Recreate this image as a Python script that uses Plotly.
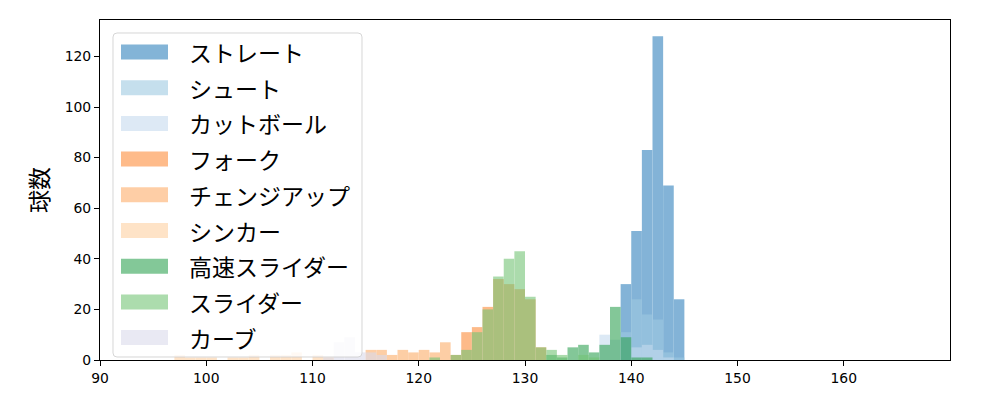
import plotly.graph_objects as go

# bin left edges (width 1) and counts per pitch type
straight_bins = [139, 140, 141, 142, 143, 144]
straight_cnt = [30, 51, 83, 128, 69, 24]

shoot_bins = [139, 140, 141, 142, 143, 144]
shoot_cnt = [11, 24, 18, 16, 3, 1]

cutter_bins = [137, 138, 140, 141, 142, 143]
cutter_cnt = [10, 8, 5, 6, 4, 1]

fork_bins = [123, 124, 125, 126, 127, 128, 129, 130, 131]
fork_cnt = [2, 11, 13, 21, 32, 30, 28, 24, 5]

change_bins = [115, 116, 117, 118, 119, 120, 121, 122]
change_cnt = [4, 4, 2, 4, 3, 4, 3, 7]

sinker_bins = [97, 98, 99, 100, 102, 103, 104, 106, 107, 108, 110, 111]
sinker_cnt = [2, 1, 1, 1, 1, 1, 2, 2, 2, 3, 2, 1]

hslider_bins = [132, 133, 134, 135, 136, 137, 138, 139, 140, 141]
hslider_cnt = [2, 1, 5, 6, 3, 6, 21, 9, 1, 1]

slider_bins = [121, 123, 124, 125, 126, 127, 128, 129, 130, 131, 132, 133, 135, 136]
slider_cnt = [1, 2, 4, 11, 20, 33, 40, 43, 25, 5, 4, 2, 2, 1]

curve_bins = [111, 112, 113, 114, 115, 116]
curve_cnt = [1, 7, 9, 3, 3, 2]

names = ["ストレート", "シュート", "カットボール", "フォーク", "チェンジアップ",
         "シンカー", "高速スライダー", "スライダー", "カーブ"]
colors = ["#3182bd", "#9ecae1", "#c6dbef", "#fd8d3c", "#fdae6b",
          "#fdd0a2", "#31a354", "#74c476", "#dadaeb"]
series = [(straight_bins, straight_cnt), (shoot_bins, shoot_cnt), (cutter_bins, cutter_cnt),
          (fork_bins, fork_cnt), (change_bins, change_cnt), (sinker_bins, sinker_cnt),
          (hslider_bins, hslider_cnt), (slider_bins, slider_cnt), (curve_bins, curve_cnt)]

x_ticks = [90, 100, 110, 120, 130, 140, 150, 160]
y_ticks = [0, 20, 40, 60, 80, 100, 120]


def rgba(h, a):
    h = h.lstrip("#")
    r, g, b = int(h[0:2], 16), int(h[2:4], 16), int(h[4:6], 16)
    return f"rgba({r},{g},{b},{a})"


fig = go.Figure()
for (bins, cnt), name, col in zip(series, names, colors):
    fig.add_trace(go.Bar(
        x=[b + 0.5 for b in bins], y=cnt, width=1.0,
        marker=dict(color=col, line=dict(width=0)),
        opacity=0.6, name=name, showlegend=False,
    ))

# ---- plot-area geometry (pixels) used to place the legend box ----
PL, PR, PT, PB = 100, 950, 20, 360
PW, PH = PR - PL, PB - PT


def px(x):
    return (x - PL) / PW


def py(y):
    return (PB - y) / PH


font = "Noto Sans CJK JP, DejaVu Sans, sans-serif"
tickfont = dict(family="DejaVu Sans, sans-serif", size=13.9, color="black")

shapes = []
annotations = []
# legend frame (rounded)
x0, x1, y0, y1, r = 113, 362, 33, 357, 4
path = (f"M{px(x0 + r)},{py(y0)} L{px(x1 - r)},{py(y0)} "
        f"Q{px(x1)},{py(y0)} {px(x1)},{py(y0 + r)} "
        f"L{px(x1)},{py(y1 - r)} Q{px(x1)},{py(y1)} {px(x1 - r)},{py(y1)} "
        f"L{px(x0 + r)},{py(y1)} Q{px(x0)},{py(y1)} {px(x0)},{py(y1 - r)} "
        f"L{px(x0)},{py(y0 + r)} Q{px(x0)},{py(y0)} {px(x0 + r)},{py(y0)} Z")
shapes.append(dict(type="path", xref="paper", yref="paper", path=path,
                   fillcolor="rgba(255,255,255,0.8)",
                   line=dict(color="rgba(204,204,204,0.8)", width=1), layer="above"))
for i, (name, col) in enumerate(zip(names, colors)):
    cy = 52 + 35.7 * i
    shapes.append(dict(type="rect", xref="paper", yref="paper",
                       x0=px(121), x1=px(168), y0=py(cy + 7.5), y1=py(cy - 7.5),
                       fillcolor=rgba(col, 0.6), line=dict(width=0), layer="above"))
    annotations.append(dict(xref="paper", yref="paper", x=px(187), y=py(cy),
                            xanchor="left", yanchor="middle", text=name, showarrow=False,
                            font=dict(family=font, size=23, color="black")))

# page is offset by 8px body margin; compensate in margins
OFF = 8
fig.update_layout(
    width=1000, height=400,
    margin=dict(l=PL - OFF, r=1000 - PR + OFF, t=PT - OFF, b=400 - PB + OFF),
    barmode="overlay",
    plot_bgcolor="white", paper_bgcolor="white",
    font=dict(family=font, color="black", size=13),
    showlegend=False,
    xaxis=dict(range=[90, 170], tickvals=x_ticks, ticks="outside", ticklen=5,
               tickcolor="black", showline=True, linecolor="black", linewidth=1.1,
               mirror=True, showgrid=False, zeroline=False, tickfont=tickfont),
    yaxis=dict(range=[0, 134.4], tickvals=y_ticks, ticks="outside", ticklen=5,
               tickcolor="black", showline=True, linecolor="black", linewidth=1.1,
               mirror=True, showgrid=False, zeroline=False, tickfont=tickfont,
               title=dict(text="球数", font=dict(family=font, size=23), standoff=9)),
    shapes=shapes,
    annotations=annotations,
)

fig.write_html("out.html")
